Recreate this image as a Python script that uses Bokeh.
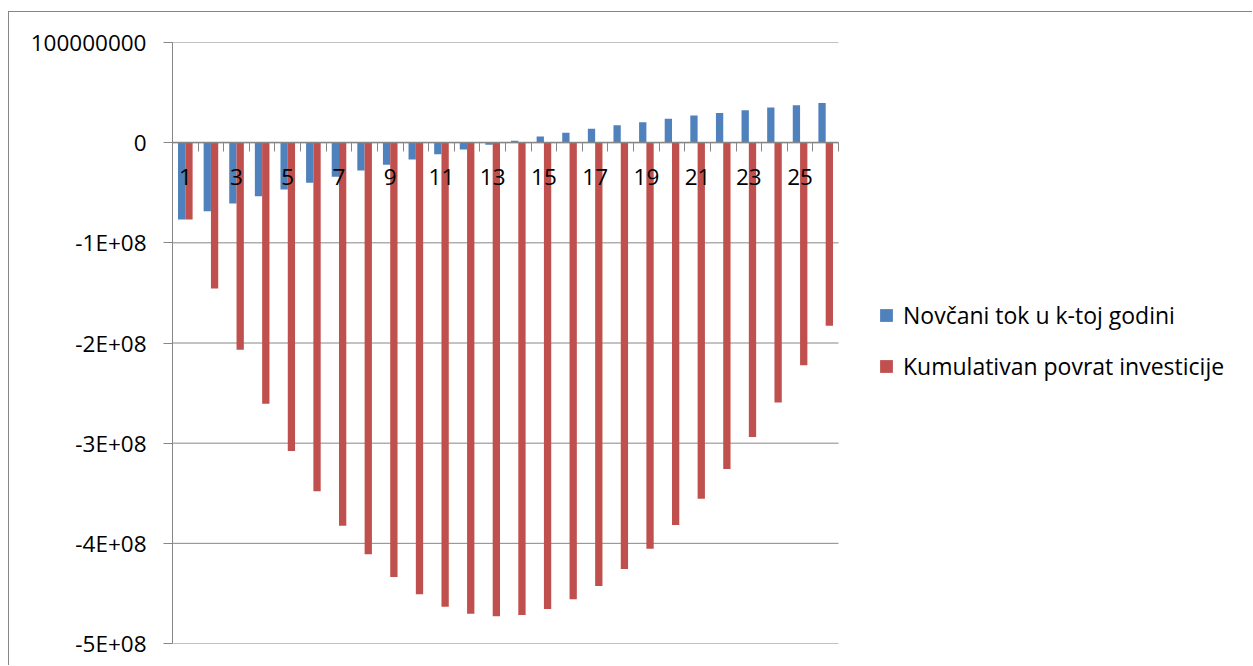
import numpy as np
from bokeh.plotting import figure
from bokeh.models import FixedTicker, Legend, LegendItem, Range1d
from bokeh.embed import file_html
from bokeh.resources import INLINE

# ---- data ----
years = list(range(1, 27))
novcani_tok_mil = [-76.7, -68.4, -60.7, -53.4, -46.7, -40.1, -34.1, -27.8, -22.1, -16.8,
                   -11.5, -6.8, -2.2, 2.0, 6.2, 9.8, 13.8, 17.5, 20.5, 23.8,
                   27.1, 29.7, 32.4, 35.1, 37.4, 39.7]
kumulativ_mil = [-76.7, -145.5, -206.8, -260.7, -307.9, -348.0, -382.4, -411.0, -433.6, -450.9,
                 -463.3, -470.3, -472.9, -471.6, -465.6, -455.9, -442.6, -425.6, -405.3, -381.7,
                 -355.4, -325.8, -293.9, -259.3, -222.1, -182.8]
series_names = ["Novčani tok u k-toj godini", "Kumulativan povrat investicije"]
y_tick_values = [100000000, 0, -100000000, -200000000, -300000000, -400000000, -500000000]
y_tick_labels = ["100000000", "0", "-1E+08", "-2E+08", "-3E+08", "-4E+08", "-5E+08"]
x_label_years = [y for y in years if y % 2 == 1]

novcani_tok = np.array(novcani_tok_mil) * 1e6
kumulativ = np.array(kumulativ_mil) * 1e6
x = np.array(years, dtype=float)

FONT = "Open Sans"
GRAY = "#868686"
BLUE = "#4F81BD"
RED = "#C0504D"

# layout (pixels)
W, H = 1244, 654
LEFT, TOP, BOTTOM = 163, 30, 23
PLOT_W = 666                      # width of the category area
FRAME_W = W - LEFT                # frame runs to the right edge (legend lives inside)
n = len(years)
x_start = 0.5
x_cat_end = x_start + n
x_end = x_start + n * FRAME_W / PLOT_W

p = figure(width=W, height=H, output_backend="svg", toolbar_location=None,
           x_range=Range1d(x_start, x_end), y_range=Range1d(-500000000, 100000000),
           min_border_left=LEFT, min_border_top=TOP, min_border_bottom=BOTTOM, min_border_right=0)
p.styles = {"border-top": "1px solid #868686", "border-left": "1px solid #868686",
            "margin-top": "11px", "margin-left": "8px"}
p.outline_line_color = None
p.background_fill_color = "white"
p.border_fill_color = "white"

# horizontal gridlines limited to the category area
p.xgrid.visible = False
p.ygrid.visible = False
p.segment(x0=[x_start] * len(y_tick_values), x1=[x_cat_end] * len(y_tick_values),
          y0=y_tick_values, y1=y_tick_values, line_color=GRAY, line_width=1)

bw = 0.285
r1 = p.vbar(x=x - bw / 2, top=novcani_tok, bottom=0, width=bw, fill_color=BLUE, line_color=None)
r2 = p.vbar(x=x + bw / 2, top=kumulativ, bottom=0, width=bw, fill_color=RED, line_color=None)

# y axis
ya = p.yaxis[0]
ya.ticker = FixedTicker(ticks=y_tick_values)
ya.major_label_overrides = {v: l for v, l in zip(y_tick_values, y_tick_labels)}
ya.major_tick_out = 9
ya.major_tick_in = 0
ya.minor_tick_out = 0
ya.minor_tick_in = 0
ya.major_tick_line_color = GRAY
ya.axis_line_color = GRAY
ya.major_label_standoff = 17
ya.major_label_text_font = FONT
ya.major_label_text_font_size = "22.5px"
ya.major_label_text_color = "black"

# x axis at zero
xa = p.xaxis[0]
xa.fixed_location = 0
xa.bounds = (x_start, x_cat_end)
xa.ticker = FixedTicker(ticks=x_label_years, minor_ticks=[y - 0.5 for y in years] + [x_cat_end])
xa.major_tick_out = 0
xa.major_tick_in = 0
xa.minor_tick_out = 9
xa.minor_tick_in = 0
xa.minor_tick_line_color = GRAY
xa.axis_line_color = GRAY
xa.axis_line_width = 1.5
xa.major_label_standoff = 17
xa.major_label_text_font = FONT
xa.major_label_text_font_size = "22.5px"
xa.major_label_text_color = "black"

legend = Legend(items=[LegendItem(label=series_names[0], renderers=[r1]),
                       LegendItem(label=series_names[1], renderers=[r2])],
                location=(706, 261), orientation="vertical")
legend.glyph_width = 16
legend.glyph_height = 16
legend.label_standoff = 9
legend.spacing = 19
legend.padding = 0
legend.margin = 0
legend.border_line_color = None
legend.background_fill_alpha = 0
legend.label_text_font = FONT
legend.label_text_font_size = "23px"
legend.label_text_color = "black"
p.add_layout(legend, "center")

open("out.html", "w").write(file_html(p, INLINE))
